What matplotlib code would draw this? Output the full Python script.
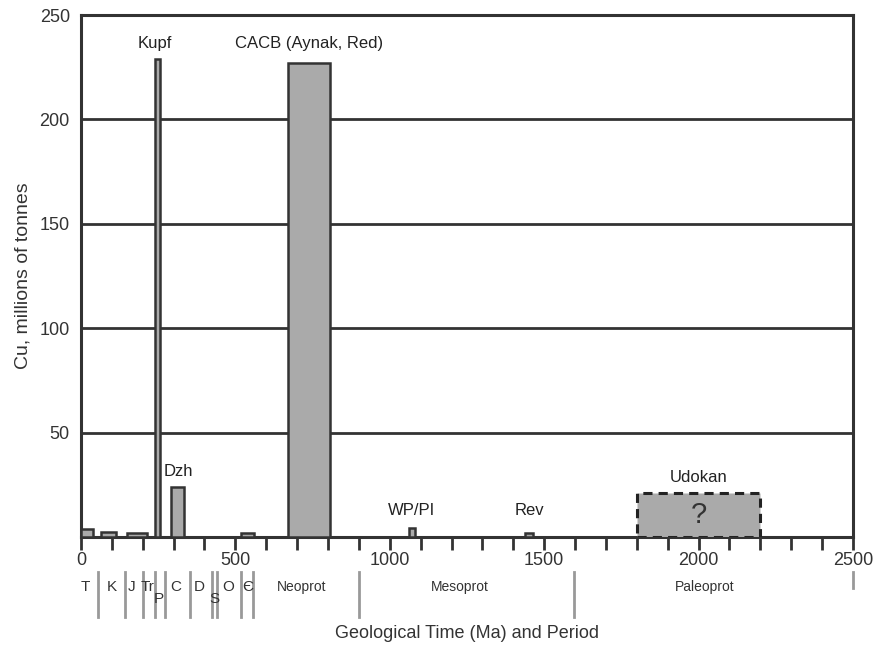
import matplotlib
matplotlib.use("Agg")
import matplotlib.pyplot as plt
import matplotlib.transforms as mtransforms
from matplotlib.patches import Rectangle

plt.rcParams['font.family'] = ['Liberation Sans', 'DejaVu Sans']

# deposits: age range (Ma) and Cu tonnage (millions of tonnes)
bar_start = [0, 65, 149, 240, 291, 518, 670, 1062, 1438]
bar_end = [38, 113, 214, 256, 334, 560, 806, 1082, 1464]
bar_height = [4, 2.5, 2, 229, 24, 2, 227, 4.5, 2]

bar_labels = ["Kupf", "Dzh", "CACB (Aynak, Red)", "WP/PI", "Rev"]
bar_label_x = [240, 316, 738, 1072, 1451]
bar_label_y = [233, 28, 233, 9, 9]

udokan_range = (1800, 2200)
udokan_height = 21

# period boundaries and names
period_bounds = [55, 142, 201, 240, 272, 353, 424, 440, 518, 557, 900, 1597]
period_names = ["T", "K", "J", "Tr", "P", "C", "D", "S", "O", "\u0404", "Neoprot",
                "Mesoprot", "Paleoprot"]
period_x = [13, 100, 165, 217, 253, 308, 382, 431, 476, 541, 716, 1227, 2021]
period_low = ["P", "S"]

fig = plt.figure(figsize=(8.85, 6.56), dpi=100)
ax = fig.add_axes([0.0915, 0.1814, 0.8723, 0.7956])

dark = "#333333"
for y in [50, 100, 150, 200]:
    ax.axhline(y, color=dark, lw=2, zorder=1)

widths = [e - s for s, e in zip(bar_start, bar_end)]
ax.bar(bar_start, bar_height, width=widths, align="edge", color="#aaaaaa",
       edgecolor=dark, linewidth=1.8, zorder=3)

ax.add_patch(Rectangle((udokan_range[0], 0), udokan_range[1] - udokan_range[0],
                       udokan_height, facecolor="#aaaaaa", edgecolor="#222222",
                       linestyle=(0, (3, 2)), linewidth=2.2, zorder=3))
ax.text(sum(udokan_range) / 2, udokan_height + 4, "Udokan", ha="center",
        va="bottom", fontsize=12, color="#222222")
ax.text(sum(udokan_range) / 2, udokan_height / 2, "?", ha="center",
        va="center", fontsize=21, color="#333333", zorder=4)

for lab, x, y in zip(bar_labels, bar_label_x, bar_label_y):
    ax.text(x, y, lab, ha="center", va="bottom", fontsize=12, color="#222222")

ax.set_xlim(0, 2500)
ax.set_ylim(0, 250)
ax.set_xticks(range(0, 2501, 500))
ax.set_xticks(range(0, 2501, 100), minor=True)
ax.set_yticks([50, 100, 150, 200, 250])
ax.tick_params(axis="x", which="both", direction="out", length=9, width=2,
               color=dark, labelsize=13, pad=2, labelcolor="#333333")
ax.tick_params(axis="y", length=0, labelsize=13, pad=8, labelcolor="#333333")
for s in ax.spines.values():
    s.set_color(dark)
    s.set_linewidth(2.2)

trans = mtransforms.blended_transform_factory(ax.transData, ax.transAxes)
for b in period_bounds:
    ax.plot([b, b], [-0.067, -0.153], color="#999999", lw=2, transform=trans,
            clip_on=False)
ax.plot([2500, 2500], [-0.067, -0.098], color="#999999", lw=2, transform=trans,
        clip_on=False)
for name, x in zip(period_names, period_x):
    y = -0.119 if name in period_low else -0.096
    fs = 10 if len(name) > 2 else 11
    ax.text(x, y, name, ha="center", va="center", fontsize=fs, color="#333333",
            transform=trans, family=['Liberation Sans', 'DejaVu Sans'])

ax.set_xlabel("Geological Time (Ma) and Period", fontsize=13, labelpad=40,
              color="#333333")
ax.set_ylabel("Cu, millions of tonnes", fontsize=14, labelpad=6, color="#333333")

fig.savefig("out.png", dpi=100)
